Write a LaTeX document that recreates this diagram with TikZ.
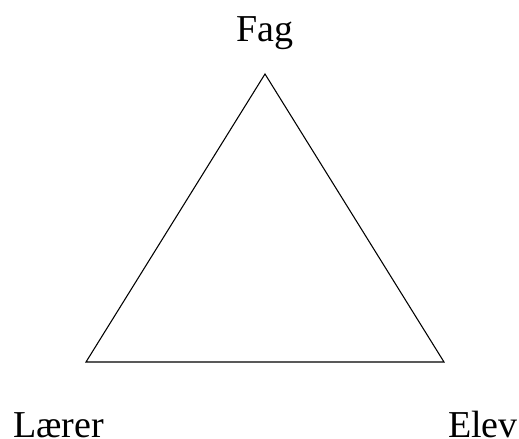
\documentclass[tikz,border=0pt]{standalone}
\usepackage{fontspec}
\setmainfont{Liberation Serif}
\usetikzlibrary{calc}

\begin{document}
\begin{tikzpicture}[x=0.75pt, y=-0.75pt,
    vertexlabel/.style={inner sep=0pt, font=\fontsize{28.5}{30}\selectfont}]
    % --- 1. Ramme ---
    \useasboundingbox (0,0) rectangle (519,439);

    % --- 2. Hjørner i trekanten ---
    \coordinate (T) at (265,74);
    \coordinate (L) at (86,362);
    \coordinate (R) at (444,362);

    % --- 3. Trekanten ---
    \draw[line width=0.8pt, line join=miter] (T) -- (L) -- (R) -- cycle;

    % --- 4. Etiketter ---
    \node[vertexlabel, anchor=base] (fag) at (264.5,41) {Fag};
    \node[vertexlabel, anchor=base west] (laerer) at (13,437) {Lærer};
    \node[vertexlabel, anchor=base east] (elev) at (518,437) {Elev};
\end{tikzpicture}
\end{document}
